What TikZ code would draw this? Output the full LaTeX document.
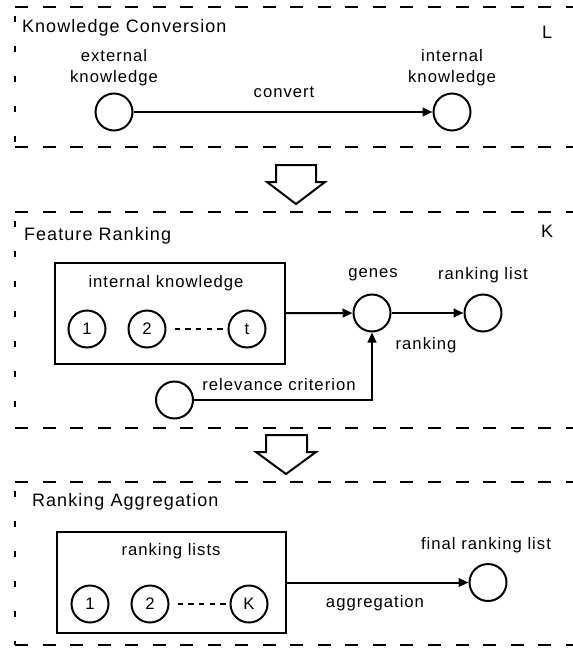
\documentclass[tikz,border=0pt]{standalone}
\usepackage{fontspec}
\setmainfont[LetterSpace=6]{Liberation Sans}
\usetikzlibrary{arrows.meta}

\tikzset{every picture/.style={line width=1.5pt}}
\tikzset{
  circ/.style={draw, circle, minimum size=27.75pt, inner sep=0pt, font=\fontsize{12.5}{15}\selectfont},
  lbl/.style={inner sep=0.75pt, align=center, font=\fontsize{12.5}{15.75}\selectfont},
  ttl/.style={anchor=west, inner sep=0.75pt, font=\fontsize{13.5}{16}\selectfont},
  listbox/.style={draw, rectangle, inner sep=0pt},
  frameline/.style={dash pattern=on 9.75pt off 10.9pt},
  frameside/.style={dash pattern=on 4.5pt off 18pt},
  conn/.style={-{Triangle[length=7.5pt,width=6.5pt]}},
  dots/.style={line width=1.2pt, dash pattern=on 4pt off 4pt},
  bigarrow/.style={draw, fill=white, line join=miter},
}

\begin{document}
\begin{tikzpicture}[x=0.75pt,y=0.75pt,yscale=-1,xscale=1]
\useasboundingbox (0,0) rectangle (573,653);

% Frame: Knowledge Conversion
\draw [frameline] (15,7) -- (573,7);
\draw [frameline] (15,147) -- (573,147);
\draw [frameside] (15,16) -- (15,147);
% Text Node
\node [ttl] (convtitle) at (20,28) {Knowledge Conversion};
\node [lbl, font=\fontsize{13.5}{16}\selectfont] (convmark) at (547,32) {L};
% Text Node
\node [circ] (ext) at (114,112) {};
\node [lbl] (extlbl) at (114,68) {external\\knowledge};
% Text Node
\node [circ] (int) at (452,112) {};
\node [lbl] (intlbl) at (452,68) {internal\\knowledge};
% Connection
\draw [conn] (ext) -- (int);
\node [lbl] (convlbl) at (284,92) {convert};

% Hollow arrow
\draw [bigarrow] (276,165) -- (316,165) -- (316,182) -- (325,182) -- (296,204) -- (267,182) -- (276,182) -- cycle;

% Frame: Feature Ranking
\draw [frameline] (15,212) -- (573,212);
\draw [frameline] (15,428) -- (573,428);
\draw [frameside] (15,221) -- (15,428);
% Text Node
\node [ttl] (ranktitle) at (22,236) {Feature Ranking};
\node [lbl, font=\fontsize{13.5}{16}\selectfont] (rankmark) at (547,231) {K};
% Text Node
\node [listbox, minimum width=172.5pt, minimum height=75.75pt] (kbox) at (170,313.5) {};
\node [lbl] (kboxlbl) at (166,283) {internal knowledge};
\node [circ] (kone) at (87,329) {1};
\node [circ] (ktwo) at (147,329) {2};
\node [circ] (kt) at (247,329) {t};
\draw [dots, shorten <=6pt] (ktwo) -- (kt);
% Text Node
\node [circ] (genes) at (372,313) {};
\node [lbl] (geneslbl) at (373,275) {genes};
% Text Node
\node [circ] (rlist) at (483,313) {};
\node [lbl] (rlistlbl) at (483,275) {ranking list};
% Text Node
\node [circ] (rel) at (174.5,400) {};
\node [lbl] (rellbl) at (279,385) {relevance criterion};
% Connection
\draw [conn] (kbox) -- (genes);
\draw [conn] (genes) -- (rlist);
\node [lbl] (ranklbl) at (426,345) {ranking};
\draw [conn] (rel) -| (genes);

% Hollow arrow
\draw [bigarrow] (266,435) -- (307,435) -- (307,452) -- (316,452) -- (286,474) -- (256,452) -- (266,452) -- cycle;

% Frame: Ranking Aggregation
\draw [frameline] (15,482) -- (573,482);
\draw [frameline] (15,645) -- (573,645);
\draw [frameside] (15,491) -- (15,645);
% Text Node
\node [ttl] (aggtitle) at (30,502) {Ranking Aggregation};
% Text Node
\node [listbox, minimum width=171.75pt, minimum height=75.75pt] (lbox) at (171.5,582.5) {};
\node [lbl] (lboxlbl) at (171,551) {ranking lists};
\node [circ] (lone) at (90,604) {1};
\node [circ] (ltwo) at (150,604) {2};
\node [circ] (lk) at (249,604) {K};
\draw [dots, shorten <=6pt] (ltwo) -- (lk);
% Text Node
\node [circ] (final) at (488,582.5) {};
\node [lbl] (finallbl) at (486,545) {final ranking list};
% Connection
\draw [conn] (lbox) -- (final);
\node [lbl] (agglbl) at (375,603) {aggregation};

\end{tikzpicture}
\end{document}
